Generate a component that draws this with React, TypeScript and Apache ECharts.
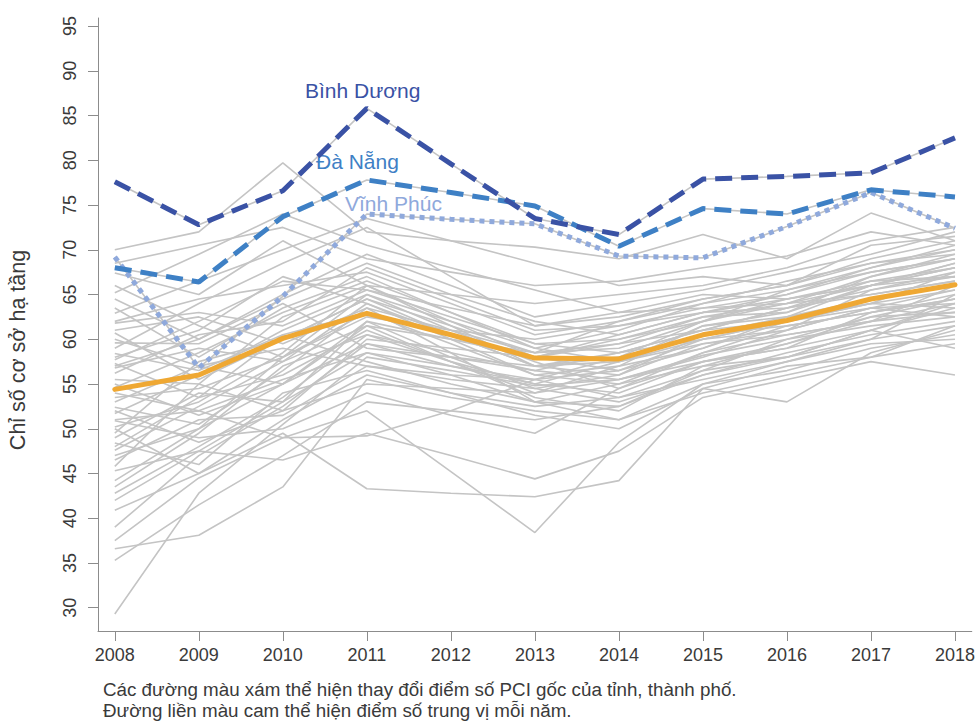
import React, { useEffect, useRef } from "react";
import * as echarts from "echarts";

const years = [2008, 2009, 2010, 2011, 2012, 2013, 2014, 2015, 2016, 2017, 2018];
const yTicks = [30, 35, 40, 45, 50, 55, 60, 65, 70, 75, 80, 85, 90, 95];

const binhDuong = [77.6, 72.8, 76.6, 85.8, 79.6, 73.5, 71.7, 77.9, 78.2, 78.6, 82.5];
const daNang = [68.0, 66.4, 73.7, 77.8, 76.4, 74.9, 70.4, 74.6, 74.0, 76.7, 75.9];
const vinhPhuc = [69.2, 56.8, 64.8, 74.0, 73.4, 72.9, 69.3, 69.1, 72.6, 76.4, 72.4];
const medianScore = [54.4, 56.0, 60.1, 62.9, 60.5, 57.9, 57.8, 60.5, 62.1, 64.5, 66.1];

const greyProvinces: number[][] = [
  [29.3, 42.8, 50.5, 58.0, 56.5, 54.8, 55.5, 58.2, 60.0, 62.5, 63.0],
  [35.3, 41.5, 47.0, 53.0, 52.0, 51.0, 52.5, 56.5, 58.0, 61.0, 63.5],
  [36.6, 38.1, 43.5, 55.5, 53.5, 52.0, 51.0, 55.0, 57.5, 60.0, 61.5],
  [37.5, 44.5, 49.0, 52.0, 45.2, 38.4, 48.5, 55.0, 56.5, 59.0, 60.5],
  [39.0, 47.0, 52.5, 59.5, 57.0, 55.0, 54.0, 57.5, 59.0, 61.0, 64.0],
  [40.9, 45.0, 49.5, 43.3, 42.8, 42.4, 44.2, 54.5, 57.0, 58.0, 59.5],
  [42.8, 48.0, 53.5, 60.5, 58.5, 56.5, 55.5, 58.0, 61.0, 63.5, 65.5],
  [44.2, 50.0, 55.0, 61.5, 57.5, 53.5, 52.0, 57.0, 59.5, 62.0, 66.0],
  [45.3, 47.5, 46.5, 49.5, 47.0, 44.4, 47.5, 53.5, 55.5, 57.5, 56.0],
  [46.5, 51.0, 51.5, 57.0, 55.5, 54.5, 53.0, 56.0, 58.5, 60.5, 62.0],
  [47.6, 52.5, 57.5, 64.0, 60.0, 56.0, 57.0, 59.0, 62.0, 64.0, 67.5],
  [48.4, 46.0, 54.0, 56.5, 54.0, 51.5, 50.0, 54.5, 53.0, 58.5, 61.0],
  [49.0, 54.0, 53.0, 62.0, 58.0, 54.5, 56.0, 60.5, 61.5, 63.0, 64.5],
  [50.2, 53.0, 58.5, 66.0, 61.5, 57.0, 58.5, 61.0, 63.5, 66.5, 68.0],
  [50.9, 49.0, 50.0, 54.0, 51.5, 49.5, 54.5, 58.5, 60.5, 62.0, 63.0],
  [51.7, 56.0, 61.0, 65.0, 62.0, 59.0, 57.5, 59.5, 61.0, 65.5, 67.0],
  [52.4, 50.5, 56.5, 63.5, 58.5, 53.0, 55.0, 57.0, 58.0, 60.0, 65.0],
  [53.0, 57.0, 59.0, 57.0, 56.0, 55.5, 58.0, 62.0, 64.0, 65.0, 66.5],
  [54.0, 52.0, 49.0, 49.2, 52.0, 55.5, 53.5, 56.5, 60.0, 61.5, 62.5],
  [54.6, 58.5, 63.0, 66.5, 63.0, 59.5, 60.0, 62.5, 63.0, 67.0, 69.0],
  [55.5, 55.0, 52.0, 60.0, 59.0, 58.0, 56.5, 59.0, 62.5, 64.5, 66.0],
  [56.2, 60.5, 62.0, 68.0, 64.5, 61.0, 61.5, 63.5, 64.0, 66.0, 68.5],
  [57.3, 53.5, 56.0, 61.0, 57.5, 54.0, 57.0, 61.5, 62.5, 64.0, 65.5],
  [57.7, 62.0, 66.5, 65.5, 62.5, 59.5, 58.5, 60.0, 62.0, 63.5, 64.0],
  [58.4, 56.5, 60.5, 63.0, 60.5, 58.0, 60.5, 63.0, 65.0, 68.0, 70.0],
  [59.0, 64.0, 68.5, 72.5, 67.0, 61.5, 62.5, 64.5, 66.0, 69.0, 71.0],
  [59.6, 59.5, 64.0, 59.0, 58.0, 57.0, 56.0, 59.5, 60.5, 62.0, 64.0],
  [60.7, 55.5, 60.0, 64.5, 61.5, 58.5, 59.0, 62.0, 64.5, 66.0, 67.0],
  [61.8, 63.0, 61.5, 65.5, 63.5, 61.5, 63.0, 65.0, 64.5, 66.0, 68.0],
  [62.9, 66.5, 70.0, 73.5, 71.0, 68.5, 66.0, 67.0, 66.0, 70.5, 71.5],
  [63.5, 58.0, 63.5, 67.0, 63.0, 59.0, 61.0, 64.0, 66.5, 68.5, 70.0],
  [64.5, 60.0, 65.0, 69.5, 66.0, 62.5, 64.0, 65.5, 67.5, 69.5, 72.0],
  [65.2, 69.5, 74.0, 70.5, 68.0, 65.5, 63.0, 63.5, 65.0, 67.5, 69.0],
  [66.0, 61.5, 58.0, 62.5, 61.0, 60.0, 61.5, 63.0, 63.5, 65.0, 66.5],
  [67.4, 65.0, 71.0, 66.0, 65.0, 64.0, 65.0, 66.0, 68.0, 71.0, 72.5],
  [68.5, 70.5, 72.5, 69.0, 67.5, 66.0, 66.5, 68.0, 69.3, 72.0, 70.5],
  [70.0, 72.0, 79.7, 72.0, 71.0, 70.3, 69.0, 71.7, 69.0, 74.1, 71.0],
  [56.8, 59.0, 57.5, 61.5, 60.0, 58.5, 59.5, 61.0, 63.5, 65.5, 67.5],
  [53.5, 54.5, 58.0, 63.0, 59.5, 56.0, 55.0, 58.5, 61.5, 63.0, 64.5],
  [51.0, 52.0, 55.5, 58.5, 57.0, 55.5, 56.5, 60.0, 62.0, 64.5, 66.0],
  [49.5, 57.5, 60.0, 64.5, 60.5, 57.0, 58.0, 60.5, 62.5, 66.0, 68.5],
  [47.0, 50.0, 58.0, 65.0, 61.0, 57.5, 54.5, 57.5, 59.0, 63.0, 65.0],
  [45.8, 55.0, 62.5, 66.0, 62.0, 58.0, 59.5, 62.5, 64.0, 67.0, 69.5],
  [43.5, 49.5, 57.0, 60.5, 57.5, 55.0, 57.5, 60.0, 61.0, 63.5, 62.5],
  [42.0, 47.5, 53.0, 58.5, 56.0, 53.0, 52.5, 56.0, 58.0, 61.0, 59.0],
  [58.0, 61.0, 67.0, 64.0, 60.5, 57.0, 57.5, 61.5, 63.0, 66.0, 68.0],
  [60.0, 57.0, 55.0, 62.0, 60.0, 58.0, 60.0, 62.0, 65.5, 67.5, 69.0],
  [62.0, 64.5, 66.0, 67.5, 64.0, 60.5, 62.0, 64.0, 65.5, 68.0, 70.5],
  [55.0, 51.5, 55.0, 59.5, 58.0, 56.5, 58.5, 61.0, 62.0, 64.0, 63.5],
  [52.0, 48.5, 52.0, 55.0, 54.5, 54.0, 55.5, 57.5, 59.5, 62.5, 64.5],
  [57.0, 60.0, 64.5, 68.5, 65.0, 62.0, 60.5, 63.0, 64.5, 66.5, 67.0],
  [61.0, 62.5, 59.5, 63.5, 61.0, 58.5, 62.0, 64.5, 66.0, 68.5, 69.5],
  [50.0, 45.0, 51.0, 56.0, 54.0, 52.5, 53.5, 55.5, 57.5, 59.5, 60.0],
  [48.0, 53.5, 60.5, 57.5, 55.0, 53.0, 51.0, 54.0, 56.0, 58.0, 61.5],
];

const yAxisTitle = "Chỉ số cơ sở hạ tầng";
const captionLines = [
  "Các đường màu xám thể hiện thay đổi điểm số PCI gốc của tỉnh, thành phố.",
  "Đường liền màu cam thể hiện điểm số trung vị mỗi năm.",
];
const highlightNames = ["Bình Dương", "Đà Nẵng", "Vĩnh Phúc"];

const FONT = "'Liberation Sans', Arial, Helvetica, sans-serif";
const TEXT = "#3a3a3a";
const GREY = "#c4c4c4";
const AXIS = "#8c8c8c";
const C_BD = "#3a52a5";
const C_DN = "#3e80c5";
const C_VP = "#8fa9dc";
const C_MED = "#efa833";

const toPairs = (vals: number[]) => years.map((y, i) => [y, vals[i]]);

export default function App() {
  const ref = useRef<HTMLDivElement>(null);
  useEffect(() => {
    if (!ref.current) return;
    const chart = echarts.init(ref.current, undefined, { renderer: "svg" });
    const greySeries = [...greyProvinces, vinhPhuc, daNang, binhDuong].map((vals, i) => ({
      type: "line",
      name: "grey" + i,
      data: toPairs(vals),
      symbol: "none",
      silent: true,
      lineStyle: { color: GREY, width: 1.6 },
      z: 2,
    }));
    const option: any = {
      animation: false,
      backgroundColor: "#ffffff",
      grid: { left: 98, right: 5, top: 18, bottom: 91 },
      xAxis: {
        type: "value",
        min: 2007.8,
        max: 2018.2,
        splitLine: { show: false },
        axisLine: { show: true, lineStyle: { color: AXIS, width: 1 } },
        axisTick: {
          show: true,
          customValues: years,
          length: 10,
          lineStyle: { color: AXIS },
        },
        axisLabel: {
          customValues: years,
          formatter: (v: number) => String(v),
          color: TEXT,
          fontSize: 18,
          fontFamily: FONT,
          margin: 15,
        },
      },
      yAxis: {
        type: "value",
        min: 27.4,
        max: 95.9,
        splitLine: { show: false },
        axisLine: { show: true, lineStyle: { color: AXIS, width: 1 } },
        axisTick: {
          show: true,
          customValues: yTicks,
          length: 10,
          lineStyle: { color: AXIS },
        },
        axisLabel: {
          customValues: yTicks,
          formatter: (v: number) => String(v),
          color: TEXT,
          fontSize: 18,
          fontFamily: FONT,
          rotate: 90,
          margin: 19,
        },
      },
      graphic: [
        {
          type: "text",
          x: 18,
          y: 350,
          rotation: Math.PI / 2,
          style: {
            text: yAxisTitle,
            fill: TEXT,
            font: `21.5px ${FONT}`,
            textAlign: "center",
            textVerticalAlign: "middle",
          },
        },
        {
          type: "text",
          left: 103,
          top: 680,
          style: { text: captionLines[0], fill: TEXT, font: `18.8px ${FONT}` },
        },
        {
          type: "text",
          left: 103,
          top: 701,
          style: { text: captionLines[1], fill: TEXT, font: `18.8px ${FONT}` },
        },
        {
          type: "text",
          left: 305,
          top: 80,
          style: { text: highlightNames[0], fill: C_BD, font: `21px ${FONT}` },
        },
        {
          type: "text",
          left: 316,
          top: 151,
          style: { text: highlightNames[1], fill: C_DN, font: `21px ${FONT}` },
        },
        {
          type: "text",
          left: 345,
          top: 193,
          style: { text: highlightNames[2], fill: C_VP, font: `21px ${FONT}` },
        },
      ],
      series: [
        ...greySeries,
        {
          type: "line",
          name: "median",
          data: toPairs(medianScore),
          symbol: "none",
          silent: true,
          lineStyle: { color: C_MED, width: 5, cap: "round", join: "round" },
          z: 3,
        },
        {
          type: "line",
          name: highlightNames[2],
          data: toPairs(vinhPhuc),
          symbol: "none",
          silent: true,
          lineStyle: { color: C_VP, width: 5, type: [5, 5] },
          z: 4,
        },
        {
          type: "line",
          name: highlightNames[1],
          data: toPairs(daNang),
          symbol: "none",
          silent: true,
          lineStyle: { color: C_DN, width: 5, type: [17, 9] },
          z: 5,
        },
        {
          type: "line",
          name: highlightNames[0],
          data: toPairs(binhDuong),
          symbol: "none",
          silent: true,
          lineStyle: { color: C_BD, width: 5, type: [17, 9] },
          z: 6,
        },
      ],
    };
    chart.setOption(option);
    return () => chart.dispose();
  }, []);
  return (
    <div
      ref={ref}
      style={{ position: "fixed", left: 0, top: 0, width: 978, height: 722, background: "#fff" }}
    />
  );
}
